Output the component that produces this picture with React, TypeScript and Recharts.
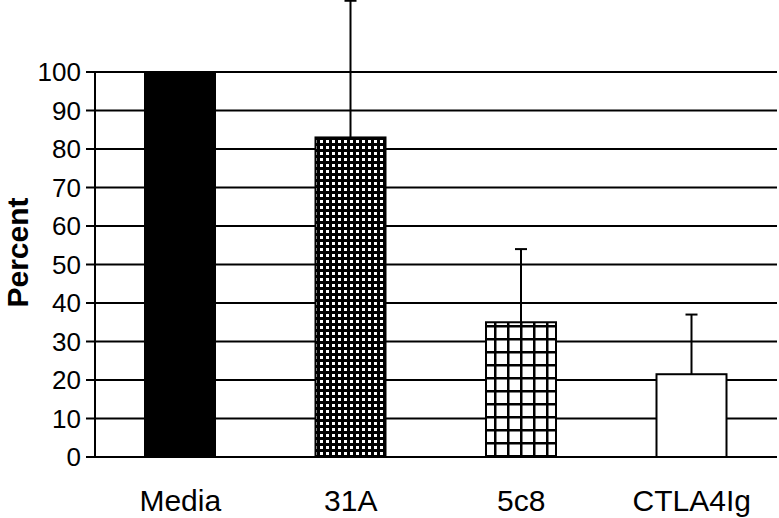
import React from 'react';
import { BarChart, Bar, Cell, XAxis, YAxis, CartesianGrid, Label } from 'recharts';

const categories = ['Media', '31A', '5c8', 'CTLA4Ig'];
const percent = [100, 83, 35, 21.5];
const errors = [0, 35.5, 19, 15.5];
const fills = ['#000000', 'url(#dense)', 'url(#grid)', '#ffffff'];
const yTicks = [0, 10, 20, 30, 40, 50, 60, 70, 80, 90, 100];

const data = categories.map((name, i) => ({ name, percent: percent[i], err: errors[i] }));

// bar with a one-sided (upper) error bar, scaled from the bar's own geometry
const BarWithError = (props: any) => {
  const { x, y, width, height, fill, payload } = props;
  const perUnit = height / payload.percent;
  const top = y - payload.err * perUnit;
  const cx = x + width / 2;
  return (
    <g>
      <rect x={x} y={y} width={width} height={height} fill={fill} stroke="#000" strokeWidth={2} />
      {payload.err > 0 && (
        <g stroke="#000" strokeWidth={2}>
          <line x1={cx} y1={y} x2={cx} y2={top} />
          <line x1={cx - 6} y1={top} x2={cx + 6} y2={top} />
        </g>
      )}
    </g>
  );
};

export default function App() {
  return (
    <div style={{ position: 'absolute', left: 0, top: 0, background: '#fff' }}>
      <BarChart
        width={779}
        height={518}
        data={data}
        margin={{ top: 72, right: 2, left: 0, bottom: 0 }}
        barSize={70}
      >
        <defs>
          <pattern id="dense" width={6} height={6} patternUnits="userSpaceOnUse">
            <rect width={6} height={6} fill="#000" />
            <rect x={2} y={2} width={3} height={3} fill="#fff" />
          </pattern>
          <pattern id="grid" width={13} height={13} patternUnits="userSpaceOnUse">
            <rect width={13} height={13} fill="#fff" />
            <rect x={0} y={0} width={2.5} height={13} fill="#000" />
            <rect x={0} y={0} width={13} height={2.5} fill="#000" />
          </pattern>
        </defs>
        <CartesianGrid vertical={false} stroke="#000" strokeWidth={2} />
        <XAxis
          xAxisId="ticks"
          type="number"
          domain={[0, 4]}
          ticks={[0, 1, 2, 3, 4]}
          allowDataOverflow
          height={0}
          tick={false}
          tickSize={9}
          tickLine={{ stroke: '#000', strokeWidth: 2 }}
          axisLine={{ stroke: '#000', strokeWidth: 2 }}
        />
        <XAxis
          dataKey="name"
          height={61}
          tickLine={false}
          axisLine={false}
          tickSize={0}
          tickMargin={33}
          tick={{ fill: '#000', fontSize: 30, fontFamily: 'Liberation Sans, Arial, sans-serif' }}
        />
        <YAxis
          width={95}
          domain={[0, 100]}
          ticks={yTicks}
          interval={0}
          tickSize={9}
          tickMargin={5}
          tickLine={{ stroke: '#000', strokeWidth: 2 }}
          axisLine={{ stroke: '#000', strokeWidth: 2 }}
          tick={{ fill: '#000', fontSize: 26, fontFamily: 'Liberation Sans, Arial, sans-serif' }}
        >
          <Label
            value="Percent"
            angle={-90}
            position="center"
            dx={-30}
            dy={-12}
            style={{ fill: '#000', fontSize: 30, fontWeight: 'bold', fontFamily: 'Liberation Sans, Arial, sans-serif' }}
          />
        </YAxis>
        <Bar dataKey="percent" isAnimationActive={false} shape={BarWithError}>
          {data.map((d, i) => (
            <Cell key={d.name} fill={fills[i]} />
          ))}
        </Bar>
      </BarChart>
    </div>
  );
}
